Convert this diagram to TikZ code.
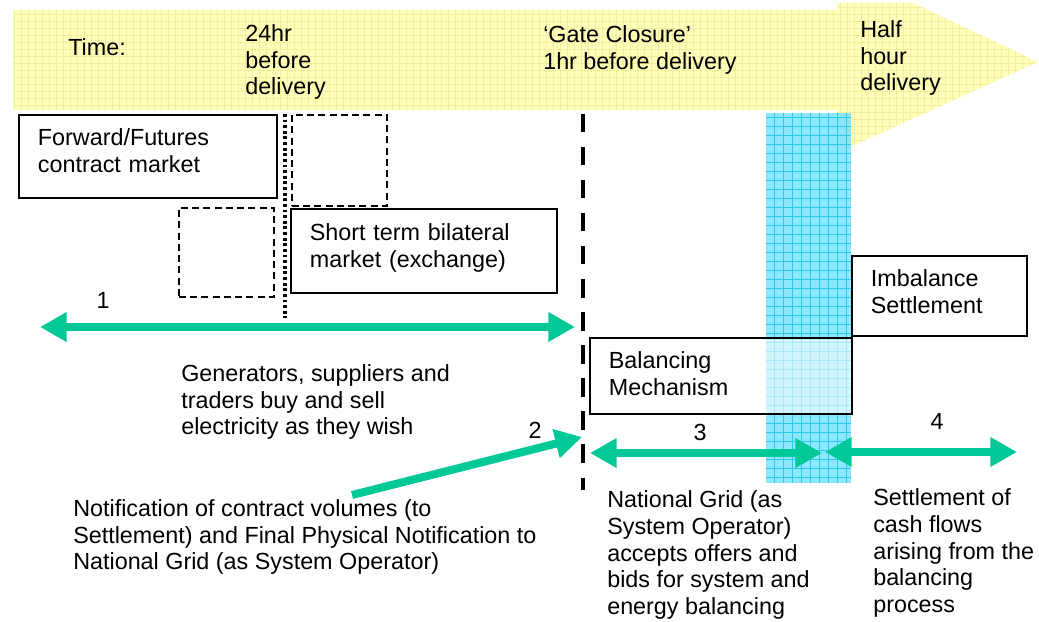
\documentclass[tikz,border=0pt]{standalone}
\usepackage{fontspec}
\setmainfont{Liberation Sans}
\usepackage{tikz}
\usetikzlibrary{positioning,calc,arrows.meta}
\definecolor{bannerfill}{RGB}{255,255,185}
\definecolor{bannergrid}{RGB}{242,238,160}
\definecolor{windowfill}{RGB}{128,228,255}
\definecolor{windowgrid}{RGB}{40,200,240}
\definecolor{flowgreen}{RGB}{0,200,150}
\tikzstyle{mkt} = [draw, rectangle, line width=1.3pt, anchor=north west, align=left, inner xsep=0.475cm, inner ysep=0pt, text depth=27pt]
\tikzstyle{ghost} = [draw, rectangle, line width=1.3pt, dash pattern=on 5pt off 3pt, anchor=north west, inner sep=0pt]
\tikzstyle{note} = [anchor=west, align=left, inner sep=0pt]
\tikzstyle{num} = [inner sep=0pt]
\tikzstyle{flow} = [line width=5.7pt, draw=flowgreen, {Triangle[length=19pt,width=20pt]}-{Triangle[length=19pt,width=20pt]}]
\tikzstyle{oneway} = [line width=5.7pt, draw=flowgreen, -{Triangle[length=19pt,width=20pt]}]
\tikzstyle{gate} = [line width=3.5pt, dash pattern=on 13pt off 10.5pt]
\tikzstyle{dayahead} = [line width=2.2pt, dash pattern=on 2pt off 2pt]
\begin{document}
\begin{tikzpicture}[x=0.025cm, y=-0.025cm, font=\fontsize{16.6}{19}\selectfont]
		\useasboundingbox (0,0) rectangle (1039,622);
		% time banner
		\path[fill=bannerfill, path picture={\draw[bannergrid, line width=0.4pt, step=0.175cm] (path picture bounding box.south west) grid (path picture bounding box.north east);}]
			(13,10) -- (837,10) -- (837,3) -- (913,3) -- (1038,62) -- (837,153) -- (837,110) -- (13,110) -- cycle;
		\node (time) [note] at (68,47) {Time:};
		\node (day) [note] at (245,62) {24hr\\before\\delivery};
		\node (gc) [note] at (543,50) {‘Gate Closure’\\1hr before delivery};
		\node (halfhr) [note] at (860,58) {Half\\hour\\delivery};
		% delivery window
		\path[fill=windowfill, fill opacity=0.9, path picture={\draw[windowgrid, line width=0.5pt, step=0.225cm] (path picture bounding box.south west) grid (path picture bounding box.north east);}]
			(766,113) rectangle (851,483);
		% markets
		\node (fwd) [mkt, text width=5.5cm, minimum height=2.075cm] at (18,114) {Forward/Futures\\contract market};
		\node (ghostup) [ghost, minimum width=2.375cm, minimum height=2.275cm] at (291,114) {};
		\node (ghostlow) [ghost, minimum width=2.375cm, minimum height=2.225cm] at (178,207) {};
		\node (stb) [mkt, text width=5.7cm, minimum height=2.1cm] at (290,208) {Short term bilateral\\market (exchange)};
		\node (bm) [mkt, fill=white, fill opacity=0.6, text opacity=1, text width=5.6cm, minimum height=1.9cm, text depth=22pt] at (589,337) {Balancing\\Mechanism};
		\node (is) [mkt, fill=white, text width=3.425cm, minimum height=2cm, text depth=25pt] at (851,255) {Imbalance\\Settlement};
		% gate closure and day ahead lines
		\coordinate (datop) at (285,114); \coordinate (dabot) at (285,318);
		\draw[dayahead] (datop) -- (dabot);
		\coordinate (gctop) at (583,114); \coordinate (gcbot) at (583,490);
		\draw[gate] (gctop) -- (gcbot);
		% flows
		\coordinate (f1a) at (40,327); \coordinate (f1b) at (575,327);
		\draw[flow] (f1a) -- (f1b);
		\node (n1) [num] at (103,300) {1};
		\coordinate (f2a) at (352,495); \coordinate (f2b) at (582,437);
		\draw[oneway] (f2a) -- (f2b);
		\node (n2) [num] at (535,430) {2};
		\coordinate (f3a) at (590,453); \coordinate (f3b) at (822,453);
		\draw[flow] (f3a) -- (f3b);
		\node (n3) [num] at (700,432) {3};
		\coordinate (f4a) at (825,452); \coordinate (f4b) at (1017,452);
		\draw[flow] (f4a) -- (f4b);
		\node (n4) [num] at (937,421) {4};
		% notes
		\node (gen) [note] at (181,402) {Generators, suppliers and\\traders buy and sell\\electricity as they wish};
		\node (notif) [note] at (73,537) {Notification of contract volumes (to\\Settlement) and Final Physical Notification to\\National Grid (as System Operator)};
		\node (ngso) [note] at (607,555) {National Grid (as\\System Operator)\\accepts offers and\\bids for system and\\energy balancing};
		\node (cash) [note] at (873,553) {Settlement of\\cash flows\\arising from the\\balancing\\process};
\end{tikzpicture}
\end{document}
